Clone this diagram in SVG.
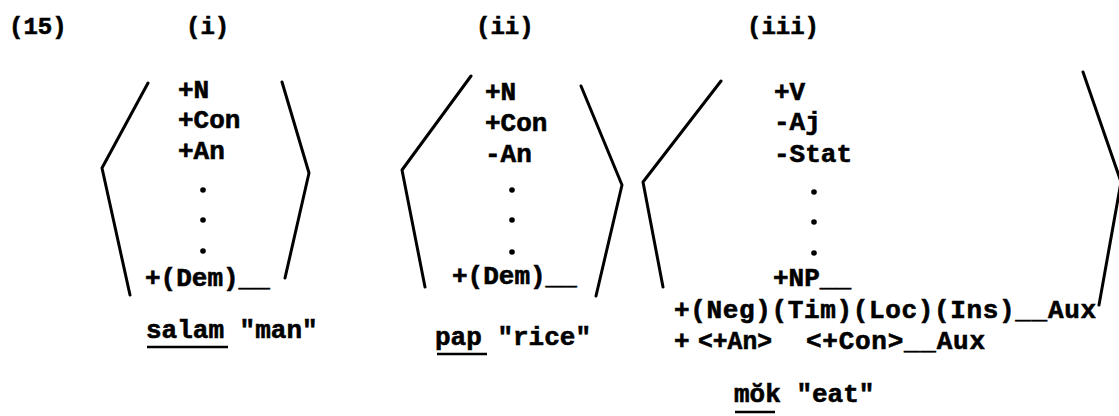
<svg xmlns="http://www.w3.org/2000/svg" width="1119" height="416" viewBox="0 0 1119 416">
<style>
text{font-family:"Liberation Mono","DejaVu Sans Mono",monospace;font-weight:bold;font-size:26px;fill:#000;stroke:#000;stroke-width:0.6}
.t{font-size:24px}
.dot{fill:#000}
.br{fill:none;stroke:#000;stroke-width:3;stroke-linecap:round;stroke-linejoin:round}
.ul{stroke:#000;stroke-width:2.5}
</style>
<rect width="1119" height="416" fill="#fff"/>
<g id="labels">
<text class="t" x="9" y="34">(15)</text>
<text class="t" x="186" y="34">(i)</text>
<text class="t" x="476" y="34">(ii)</text>
<text class="t" x="747" y="34">(iii)</text>
</g>
<g id="node-i">
<polyline class="br" points="148,83 102,168 130,295"/>
<polyline class="br" points="282,82 309,173 285,278"/>
<text x="178" y="98">+N</text>
<text x="178" y="128">+Con</text>
<text x="178" y="159">+An</text>
<circle class="dot" cx="203" cy="190" r="2.8"/>
<circle class="dot" cx="203" cy="220" r="2.8"/>
<circle class="dot" cx="203" cy="251" r="2.8"/>
<text x="145" y="286">+(Dem)__</text>
<text x="146" y="338">salam "man"</text>
<line class="ul" x1="147" y1="347" x2="228" y2="347"/>
</g>
<g id="node-ii">
<polyline class="br" points="471,76 402,170 425,287"/>
<polyline class="br" points="581,86 622,185 596,296"/>
<text x="485" y="100">+N</text>
<text x="485" y="131">+Con</text>
<text x="485" y="162">-An</text>
<circle class="dot" cx="512" cy="190" r="2.8"/>
<circle class="dot" cx="512" cy="220" r="2.8"/>
<circle class="dot" cx="512" cy="252" r="2.8"/>
<text x="452" y="284">+(Dem)__</text>
<text x="435" y="345">pap "rice"</text>
<line class="ul" x1="437" y1="354" x2="487" y2="354"/>
</g>
<g id="node-iii">
<polyline class="br" points="721,81 643,182 663,287"/>
<polyline class="br" points="1083,72 1121,182 1099,305"/>
<text x="774" y="100">+V</text>
<text x="774" y="130">-Aj</text>
<text x="774" y="162">-Stat</text>
<circle class="dot" cx="814" cy="192" r="2.8"/>
<circle class="dot" cx="814" cy="222" r="2.8"/>
<circle class="dot" cx="814" cy="253" r="2.8"/>
<text x="773" y="286">+NP__</text>
<text x="674" y="318" textLength="422" lengthAdjust="spacing">+(Neg)(Tim)(Loc)(Ins)__Aux</text>
<text x="674" y="349">+</text>
<text x="698" y="349" textLength="74" lengthAdjust="spacingAndGlyphs">&lt;+An&gt;</text>
<text x="806" y="349" textLength="179" lengthAdjust="spacing">&lt;+Con&gt;__Aux</text>
<text x="734" y="402">mŏk "eat"</text>
<line class="ul" x1="735" y1="412" x2="775" y2="412"/>
</g>
</svg>
